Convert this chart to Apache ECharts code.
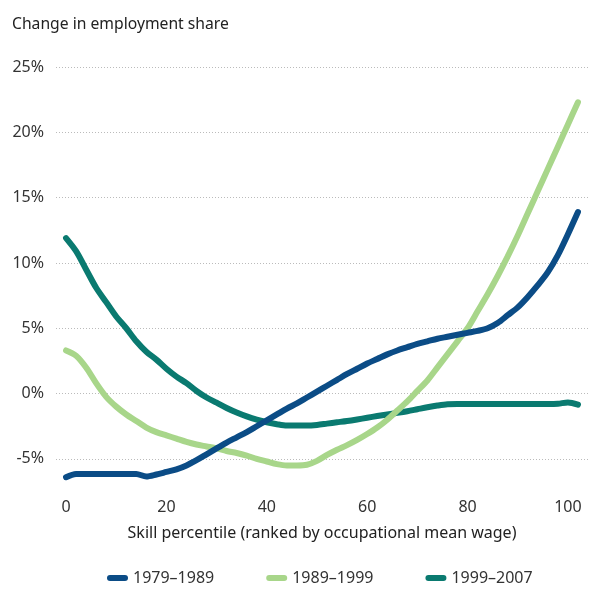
<!DOCTYPE html>
<html>
<head>
<meta charset="utf-8">
<script src="https://cdn.jsdelivr.net/npm/echarts@6/dist/echarts.min.js"></script>
<style>html,body{margin:0;padding:0;background:#fff}#c{width:600px;height:602px}</style>
</head>
<body>
<div id="c"></div>
<script>
var xs = [0,2,4,6,8,10,12,14,16,18,20,22,24,26,28,30,32,34,36,38,40,42,44,46,48,50,52,54,56,58,60,62,64,66,68,70,72,74,76,78,80,82,84,86,88,90,92,94,96,98,100,102];
var s1979 = [-6.4,-6.15,-6.15,-6.15,-6.15,-6.15,-6.15,-6.15,-6.35,-6.2,-6.0,-5.8,-5.5,-5.1,-4.65,-4.2,-3.75,-3.35,-2.95,-2.5,-2.05,-1.6,-1.15,-0.75,-0.3,0.15,0.6,1.05,1.5,1.9,2.3,2.65,3.0,3.3,3.55,3.8,4.0,4.2,4.35,4.5,4.65,4.8,5.0,5.4,6.0,6.6,7.4,8.3,9.3,10.6,12.2,13.9];
var s1989 = [3.3,2.9,2.0,0.8,-0.25,-1.0,-1.6,-2.1,-2.6,-2.95,-3.2,-3.45,-3.7,-3.9,-4.05,-4.2,-4.4,-4.55,-4.75,-5.0,-5.2,-5.4,-5.5,-5.5,-5.45,-5.15,-4.7,-4.3,-3.95,-3.55,-3.1,-2.6,-2.0,-1.3,-0.6,0.2,1.0,2.0,3.0,4.0,5.0,6.3,7.6,9.0,10.5,12.1,13.8,15.5,17.2,18.9,20.6,22.3];
var s1999 = [11.9,10.9,9.5,8.1,7.0,5.9,5.0,4.0,3.2,2.6,1.9,1.3,0.8,0.2,-0.3,-0.7,-1.1,-1.45,-1.75,-2.0,-2.2,-2.35,-2.45,-2.45,-2.45,-2.4,-2.3,-2.2,-2.1,-1.98,-1.85,-1.72,-1.6,-1.48,-1.35,-1.2,-1.05,-0.92,-0.82,-0.8,-0.8,-0.8,-0.8,-0.8,-0.8,-0.8,-0.8,-0.8,-0.8,-0.78,-0.68,-0.85];
var seriesNames = ['1979\u20131989','1989\u20131999','1999\u20132007'];
var xTicks = [0,20,40,60,80,100];
var yTicks = [-5,0,5,10,15,20,25];
var colors = ['#0b4c86','#a8d68a','#0a7a70'];

function pairs(v){ return xs.map(function(x,i){ return [x, v[i]]; }); }
var font = 'Noto Sans, sans-serif';
var chart = echarts.init(document.getElementById('c'));
var icon = 'path://M3,0 L18,0 A3,3 0 0 1 18,6 L3,6 A3,3 0 0 1 3,0 Z';
chart.setOption({
  animation: false,
  color: colors,
  textStyle: {fontFamily: font},
  title: {text: 'Change in employment share', left: 7, top: 12,
    textStyle: {fontSize: 15.7, fontWeight: 'normal', color: '#222', fontFamily: font}},
  grid: {left: 56, right: 12, top: 67, bottom: 117},
  xAxis: {
    type: 'value', min: -2, max: 104,
    name: 'Skill percentile (ranked by occupational mean wage)',
    nameLocation: 'middle', nameGap: 40,
    nameTextStyle: {fontSize: 16, color: '#222', fontFamily: font},
    axisLine: {show: false}, axisTick: {show: false, customValues: xTicks},
    splitLine: {show: false},
    axisLabel: {customValues: xTicks, fontSize: 16, color: '#333', margin: 14, fontFamily: font}
  },
  yAxis: {
    type: 'value', min: -7, max: 25,
    axisLine: {show: false}, axisTick: {show: false, customValues: yTicks},
    axisLabel: {customValues: yTicks, fontSize: 16, color: '#333', margin: 12, fontFamily: font,
      formatter: function(v){ return v + '%'; }},
    splitLine: {show: true, lineStyle: {color: '#bbbbbb', width: 1, type: [1, 2]}}
  },
  legend: {
    bottom: 11, left: 102, itemGap: 52, itemWidth: 21, itemHeight: 6, icon: icon,
    textStyle: {fontSize: 16, color: '#333', fontFamily: font},
    data: seriesNames
  },
  series: [s1979, s1989, s1999].map(function(v, i){
    return {name: seriesNames[i], type: 'line', data: pairs(v), smooth: 0.3, symbol: 'none',
      lineStyle: {width: 6, color: colors[i], cap: 'round', join: 'round'},
      itemStyle: {color: colors[i]}, z: 3 - i};
  })
});
</script>
</body>
</html>
